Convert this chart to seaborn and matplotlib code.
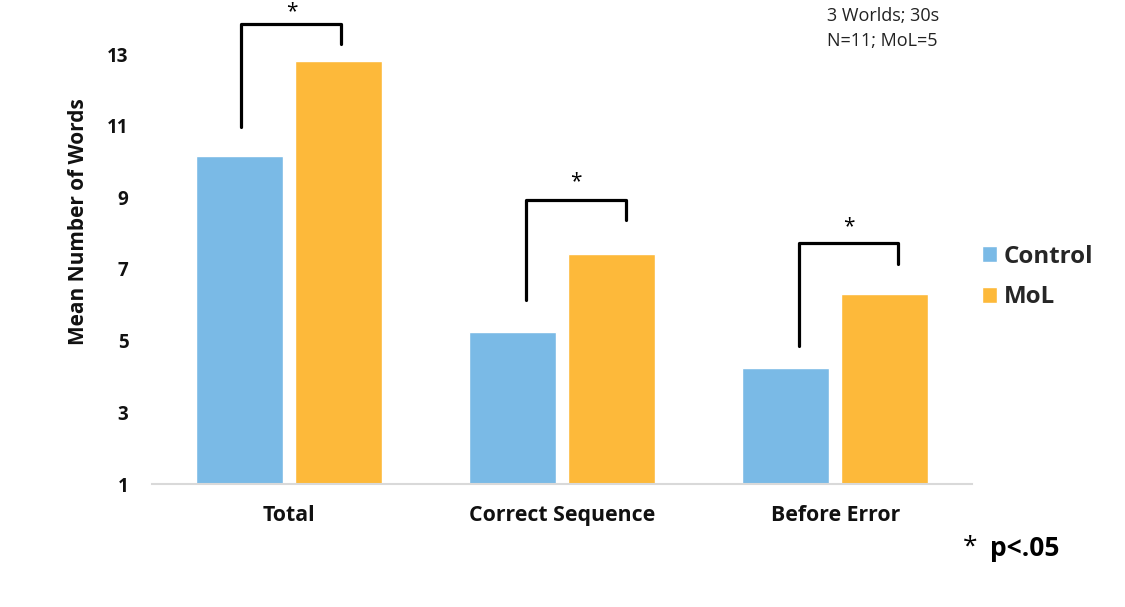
import matplotlib
matplotlib.use("Agg")
import matplotlib.pyplot as plt
import seaborn as sns
import pandas as pd

# Mean number of words recalled per condition
categories = ["Total", "Correct Sequence", "Before Error"]
groups = ["Control", "MoL"]
control_means = [10.15, 5.24, 4.24]
mol_means = [12.8, 7.42, 6.3]

# Significance brackets: (left x, right x, left-leg bottom, top, right-leg bottom)
brackets = [
    (-0.174, 0.192, 10.96, 13.84, 13.28),
    (0.868, 1.234, 6.14, 8.93, 8.37),
    (1.867, 2.229, 4.85, 7.73, 7.14),
]
star_positions = [(0.01, 14.17), (1.05, 9.43), (2.05, 8.18)]

df = pd.DataFrame({
    "category": categories * 2,
    "group": [groups[0]] * 3 + [groups[1]] * 3,
    "value": control_means + mol_means,
})

sns.set_theme(style="white")
plt.rcParams["font.family"] = ["Open Sans", "DejaVu Sans"]

fig = plt.figure(figsize=(11.25, 6.07), dpi=100)
ax = fig.add_axes([152 / 1125, 1 - 484 / 607, 820 / 1125, 430 / 607])

palette = {"Control": "#7ABAE6", "MoL": "#FDB93A"}
sns.barplot(data=df, x="category", y="value", hue="group", order=categories,
            hue_order=groups, palette=palette, width=0.724, gap=0.12,
            saturation=1, ax=ax, legend=True)

ax.set_xlim(-0.5, 2.5)
ax.set_ylim(1, 13)
ax.set_yticks([1, 3, 5, 7, 9, 11, 13])
ax.tick_params(axis="y", length=0, labelsize=13.5, colors="#111111", pad=17)
ax.tick_params(axis="x", length=0, labelsize=15.3, colors="#111111", pad=15)
for lab in ax.get_xticklabels() + ax.get_yticklabels():
    lab.set_fontweight("bold")

for side in ["top", "right", "left"]:
    ax.spines[side].set_visible(False)
ax.spines["bottom"].set_color("#D9D9D9")
ax.spines["bottom"].set_linewidth(1.5)

ax.set_xlabel("")
ax.set_ylabel("Mean Number of Words", fontsize=15, fontweight="bold",
              color="#111111")
ax.yaxis.set_label_coords(-0.0765, 0.6105)

for (x0, x1, y0, ytop, y1) in brackets:
    ax.plot([x0, x0, x1, x1], [y0, ytop, ytop, y1], color="black", lw=2.3,
            clip_on=False, solid_joinstyle="round")
for (sx, sy) in star_positions:
    ax.text(sx, sy, "*", ha="center", va="center", fontsize=15,
            color="black", clip_on=False)

handles, labels = ax.get_legend_handles_labels()
ax.legend(handles, labels, loc="center left",
          bbox_to_anchor=(960 / 1125, 1 - 277 / 607),
          bbox_transform=fig.transFigure, frameon=False,
          prop={"size": 17.4, "weight": "bold"}, handlelength=0.62,
          handleheight=0.62, handletextpad=0.3, labelspacing=0.7)

fig.text(827 / 1125, 1 - 16 / 607, "3 Worlds; 30s", fontsize=13,
         color="#222222", ha="left", va="center")
fig.text(827 / 1125, 1 - 41 / 607, "N=11; MoL=5", fontsize=13,
         color="#222222", ha="left", va="center")

fig.text(963 / 1125, 1 - 547 / 607, "*", fontsize=19, color="black",
         ha="left", va="center")
fig.text(990 / 1125, 1 - 549 / 607, "p<.05", fontsize=19, fontweight="bold",
         color="black", ha="left", va="center")

fig.savefig("out.png", dpi=100, facecolor="white")
